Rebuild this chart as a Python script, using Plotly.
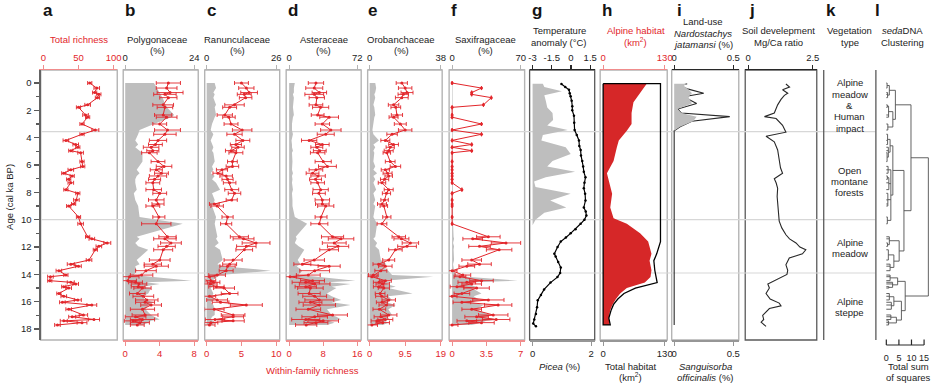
import plotly.graph_objects as go

W, H = 941, 385
FONT = "Liberation Sans, Arial, sans-serif"

# ---------------- data ----------------
AGES = [0.0, 0.37, 0.7, 0.83, 1.07, 1.6, 1.78, 2.34, 2.5, 3.0,
        3.44, 3.75, 4.2, 4.5, 4.7, 4.95, 5.1, 5.75, 6.1, 6.35,
        6.6, 6.8, 7.05, 7.3, 7.8, 8.07, 8.55, 8.85, 9.0, 9.8,
        10.3, 11.25, 11.4, 11.7, 11.95, 12.2, 12.95, 13.25, 13.4, 13.73,
        14.05, 14.17, 14.46, 14.58, 14.7, 14.9, 15.0, 15.4, 15.6, 15.87,
        16.04, 16.24, 16.55, 16.97, 17.1, 17.3, 17.4, 17.53, 17.7]

TOTAL_RICH = [66, 76, 73, 79, 77, 63, 50, 60, 63, 55,
              74, 55, 32, 46, 49, 39, 53, 55, 56, 39,
              29, 41, 36, 39, 32, 49, 47, 43, 36, 50,
              53, 63, 69, 91, 79, 74, 65, 39, 50, 22,
              32, 10, 9, 39, 46, 29, 36, 22, 29, 49,
              27, 69, 36, 57, 41, 72, 29, 55, 20]
ERR_A = [3, 4, 3, 3, 3, 4, 3, 4, 3, 3,
         5, 3, 4, 4, 3, 3, 4, 3, 3, 4,
         3, 3, 3, 4, 3, 3, 4, 3, 3, 3,
         4, 3, 4, 5, 4, 3, 4, 5, 4, 4,
         3, 4, 3, 5, 4, 3, 4, 3, 4, 5,
         4, 7, 4, 6, 5, 8, 5, 7, 4]

POLY_PCT = [10, 11, 12, 12.5, 13, 14, 14.5, 17, 16, 10,
            5, 4.5, 3.5, 4.5, 3.5, 5, 6, 6, 5, 4,
            5, 4, 3.5, 3.5, 4, 3, 3.5, 4, 4.5, 5,
            20, 4, 5, 3.5, 4.5, 8, 4, 5, 3.5, 4,
            3, 9, 23, 7, 12, 6, 9, 8, 6, 7,
            10, 8, 7, 9, 10, 12, 9, 8, 6]
POLY_RICH = [5.0, 4.8, 5.2, 4.6, 5.0, 4.4, 4.6, 4.4, 4.8, 4.0,
             4.9, 4.6, 3.8, 3.5, 3.0, 3.2, 2.8, 3.8, 4.5, 3.6,
             4.2, 3.8, 3.4, 3.2, 3.3, 4.0, 3.6, 3.8, 3.2, 3.9,
             3.6, 4.9, 4.6, 5.3, 4.8, 4.4, 4.0, 3.2, 3.6, 2.4,
             1.9, 0.5, 0.3, 1.2, 1.6, 1.5, 2.0, 1.4, 2.1, 2.5,
             2.3, 3.0, 2.0, 2.3, 1.2, 2.0, 0.9, 1.7, 1.4]
ERR_B = [1.4, 1.2, 1.5, 1.3, 1.0, 1.2, 0.9, 1.0, 1.2, 0.8,
         1.5, 1.3, 1.0, 0.8, 0.9, 0.7, 0.9, 0.8, 0.9, 0.7,
         0.8, 1.0, 0.7, 0.8, 0.9, 0.8, 0.9, 0.7, 0.8, 0.7,
         1.7, 1.0, 1.3, 1.2, 1.0, 1.1, 1.2, 1.0, 1.4, 1.2,
         1.3, 1.1, 1.0, 0.8, 0.9, 0.8, 1.0, 0.9, 1.2, 1.3,
         1.1, 1.2, 1.4, 1.5, 1.2, 1.4, 1.0, 1.1, 0.8]

RANU_PCT = [3, 3.5, 2.5, 3, 2.5, 3.5, 3, 3.5, 3, 2,
            1.5, 2.5, 1.5, 2, 2.5, 2, 2.5, 3, 2, 2.5,
            1.5, 3, 2, 3.5, 5, 2, 3, 2.5, 2, 3.5,
            3, 4, 3.5, 4.5, 3, 5, 6, 4, 6, 24,
            5, 4, 2, 2.5, 3, 2, 1.5, 2.5, 2, 3,
            1.5, 2.5, 3, 3, 2, 1.5, 2.5, 3, 2]
RANU_RICH = [5.0, 5.7, 6.1, 5.4, 5.6, 4.0, 3.3, 2.6, 3.2, 3.5,
             5.1, 4.0, 5.2, 4.2, 4.5, 3.5, 4.2, 3.7, 3.7, 2.2,
             1.6, 2.8, 3.0, 3.3, 3.6, 4.0, 3.6, 1.1, 1.5, 3.0,
             2.8, 4.7, 5.3, 7.1, 5.7, 5.4, 3.8, 3.3, 3.0, 2.8,
             1.5, 0.4, 0.6, 1.0, 0.5, 1.4, 2.5, 3.3, 0.4, 1.5,
             2.0, 5.7, 1.1, 3.8, 3.8, 1.2, 3.8, 0.6, 0.4]
ERR_C = [1.0, 1.1, 1.2, 1.0, 0.9, 1.4, 1.0, 1.1, 0.9, 1.0,
         1.4, 1.1, 1.0, 0.8, 0.9, 0.8, 1.0, 0.7, 0.9, 0.8,
         0.7, 0.9, 0.8, 0.9, 1.0, 0.9, 0.8, 0.7, 0.9, 0.8,
         0.8, 1.3, 1.5, 2.0, 1.4, 1.2, 1.3, 1.0, 1.1, 1.0,
         1.2, 0.8, 0.7, 0.9, 1.0, 1.1, 1.5, 1.2, 0.9, 1.5,
         1.2, 2.3, 1.4, 1.7, 1.5, 1.4, 1.6, 1.0, 0.8]

ASTE_PCT = [6, 5, 5, 4, 5, 4, 4, 5, 4, 3,
            3, 4, 2.5, 3, 3, 4, 3, 3.5, 3, 3,
            4, 3, 3.5, 3, 4, 3, 3.5, 3, 3.5, 6,
            19, 7, 8, 6, 10, 16, 9, 12, 8, 14,
            10, 30, 70, 40, 65, 45, 50, 40, 45, 55,
            45, 65, 40, 45, 50, 55, 42, 48, 40]
ASTE_RICH = [6.3, 5.9, 7.1, 5.9, 6.5, 6.3, 7.4, 6.7, 9.4, 7.8,
             9.8, 8.6, 4.7, 7.8, 6.5, 7.2, 6.7, 8.0, 9.0, 6.3,
             5.5, 6.8, 6.2, 6.7, 7.4, 7.0, 7.8, 7.8, 8.6, 7.5,
             7.1, 10.2, 12.2, 10.6, 11.5, 9.4, 5.9, 3.1, 9.4, 6.0,
             4.5, 0.2, 5.5, 3.9, 6.0, 3.9, 5.0, 4.7, 6.0, 7.1,
             5.0, 7.1, 4.5, 10.2, 6.0, 3.9, 8.0, 6.3, 4.0]
ERR_D = [1.8, 2.0, 1.7, 2.2, 1.8, 1.6, 1.9, 1.5, 2.2, 1.7,
         2.4, 2.0, 1.8, 1.6, 1.4, 1.5, 1.7, 1.9, 2.1, 1.6,
         1.5, 1.7, 1.4, 1.6, 1.8, 1.5, 1.7, 1.6, 1.9, 1.4,
         2.0, 2.6, 3.0, 2.8, 2.5, 2.2, 2.4, 2.0, 2.6, 3.5,
         2.8, 1.5, 2.8, 3.2, 3.6, 2.5, 3.0, 2.6, 2.8, 3.4,
         2.7, 3.8, 2.9, 3.5, 3.0, 3.3, 3.6, 2.8, 2.5]

OROB_PCT = [3, 3.5, 3, 2.5, 3, 2, 2.5, 3, 2.5, 2,
            1.5, 2, 5, 2, 3, 2, 2.5, 2, 3, 2,
            4, 2, 3, 2, 3.5, 2, 3, 2, 3, 2,
            4, 3, 2, 4, 3, 5, 6, 9, 7, 10,
            12, 34, 8, 12, 9, 14, 10, 23, 10, 12,
            9, 14, 10, 12, 9, 11, 8, 10, 7]
OROB_RICH = [8.6, 9.5, 10.0, 9.0, 8.6, 6.4, 7.0, 7.3, 6.4, 8.2,
             9.5, 6.0, 4.2, 6.4, 5.5, 5.1, 4.6, 5.5, 6.9, 4.2,
             4.8, 5.1, 4.0, 3.3, 5.1, 4.5, 4.0, 3.3, 3.8, 4.6,
             3.3, 7.8, 8.5, 10.9, 10.0, 6.9, 5.1, 2.4, 4.2, 3.0,
             1.0, 0.6, 4.2, 2.5, 3.5, 2.4, 3.8, 2.8, 3.2, 5.1,
             3.3, 4.5, 2.6, 5.1, 3.0, 4.2, 2.0, 3.5, 0.6]
ERR_E = [1.5, 1.8, 1.6, 1.4, 1.7, 1.4, 1.3, 1.5, 1.2, 1.6,
         1.8, 1.4, 1.2, 1.3, 1.1, 1.2, 1.0, 1.3, 1.4, 1.1,
         1.2, 1.0, 1.1, 1.0, 1.2, 1.1, 1.0, 1.2, 1.0, 1.1,
         1.3, 1.8, 2.0, 2.2, 2.5, 1.8, 1.6, 1.5, 1.8, 1.6,
         1.3, 1.4, 1.6, 1.5, 1.8, 1.4, 1.5, 1.3, 1.6, 1.8,
         1.5, 2.0, 1.7, 2.2, 1.8, 2.0, 1.6, 1.8, 1.5]

SAXI_PCT = [0.5, 0.5, 0.3, 0.5, 0.4, 0.5, 0.3, 0.5, 0.4, 0.3,
            0.3, 0.4, 0.3, 0.3, 0.4, 0.3, 0.3, 0.3, 0.4, 0.3,
            0.3, 0.3, 0.3, 0.3, 0.4, 0.3, 0.3, 0.3, 0.3, 0.5,
            1.0, 1.5, 2, 1, 2, 1.5, 2, 1, 1.5, 2,
            4, 15, 67, 20, 15, 25, 20, 30, 22, 28,
            20, 32, 25, 38, 30, 47, 35, 30, 20]
SAXI_RICH = [0.0, 3.0, 2.0, 2.0, 4.0, 3.2, 0.0, 0.0, 0.0, 3.0,
             0.0, 3.0, 0.0, 2.0, 0.0, 2.0, 0.0, 0.0, 0.0, 0.0,
             0.0, 0.0, 0.0, 0.0, 1.0, 0.0, 0.0, 0.0, 0.0, 0.0,
             0.0, 3.7, 2.1, 5.5, 2.8, 4.8, 2.0, 2.8, 1.5, 0.0,
             1.1, 0.8, 3.0, 1.5, 2.0, 0.5, 2.5, 1.0, 0.0, 3.7,
             1.0, 4.7, 2.0, 4.2, 2.5, 4.5, 1.5, 3.0, 0.0]
ERR_F = [0, 0, 0, 0, 0, 0, 0, 0, 0, 0,
         0, 0, 0, 0, 0, 0, 0, 0, 0, 0,
         0, 0, 0, 0, 0, 0, 0, 0, 0, 0,
         0, 1.2, 1.0, 1.5, 1.1, 1.3, 1.0, 1.2, 0.8, 0.5,
         0.8, 0.6, 1.2, 0.9, 1.0, 0.7, 1.3, 0.8, 0.5, 1.6,
         0.9, 1.4, 1.0, 1.5, 1.2, 1.4, 1.0, 1.3, 0.6]

TEMP_AGE = [0.07, 0.3, 0.5, 0.75, 0.97, 1.3, 1.7, 2.0, 2.4, 2.9,
            3.44, 3.8, 4.2, 4.6, 4.9, 5.3, 5.7, 6.1, 6.5, 6.9,
            7.3, 7.7, 8.1, 8.6, 9.1, 9.4, 9.7, 10.0, 10.3, 10.7,
            11.0, 11.3, 11.6, 12.0, 12.5, 12.7, 13.1, 13.5, 13.9, 14.2,
            14.6, 15.1, 15.5, 15.9, 16.4, 16.9, 17.3, 17.6, 17.8]
TEMP = [-0.75, -0.45, -0.16, -0.1, -0.03, 0.05, 0.1, 0.1, 0.23, 0.25,
        0.28, 0.45, 0.62, 0.65, 0.75, 0.78, 0.88, 0.95, 1.0, 1.13,
        1.05, 1.0, 1.1, 1.13, 1.0, 1.15, 1.2, 1.05, 0.75, 0.35,
        -0.03, -0.4, -0.8, -1.05, -1.3, -1.2, -1.0, -0.8, -0.85, -1.06,
        -1.6, -2.1, -2.35, -2.6, -2.65, -2.74, -2.87, -2.95, -2.74]

PICEA_AGE = [0.05, 0.3, 0.6, 0.9, 1.3, 1.8, 2.2, 2.7, 3.1, 3.44,
             3.8, 4.2, 4.7, 5.2, 5.7, 6.1, 6.5, 6.9, 7.2, 7.6,
             8.1, 8.6, 9.1, 9.5, 10.0, 10.4]
PICEA = [0.35, 0.4, 1.0, 0.4, 0.45, 0.5, 0.68, 0.7, 0.5, 1.2,
         0.35, 0.3, 1.13, 1.3, 0.68, 0.5, 1.45, 0.45, 0.05, 0.1,
         1.3, 0.6, 1.15, 0.4, 0.1, 0.0]

HAB_AGE = [0.05, 0.7, 1.4, 2.2, 3.0, 3.5, 4.2, 4.7, 5.7, 6.6,
           7.1, 8.1, 9.1, 9.9, 10.3, 11.0, 11.6, 12.5, 13.0, 13.7,
           14.2, 14.6, 15.0, 15.4, 15.8, 16.2, 16.6, 17.2, 17.7]
ALPINE_HAB = [92, 78, 64, 60, 60, 50, 33, 29, 22, 8,
              12, 19, 15, 22, 50, 78, 95, 102, 98, 102,
              100, 88, 50, 36, 27, 20, 15, 12, 14]
TOTAL_HAB = [121, 121, 121, 121, 121, 121, 121, 121, 121, 121,
             121, 121, 121, 121, 121, 121, 121, 113, 107, 109,
             111, 114, 68, 44, 31, 22, 17, 12, 15]

NARDO_AGE = [0.05, 0.2, 0.45, 0.75, 1.0, 1.5, 1.9, 2.2, 2.46, 2.8,
             3.2, 3.5, 10.0, 17.7]
NARDO = [0.11, 0.05, 0.12, 0.25, 0.08, 0.19, 0.03, 0.06, 0.47, 0.15,
         0.05, 0.0, 0.0, 0.0]
SANG = [0.11, 0.08, 0.12, 0.15, 0.12, 0.15, 0.03, 0.06, 0.19, 0.16,
        0.05, 0.0, 0.0, 0.0]

MGCA_AGE = [0.07, 0.3, 0.5, 0.75, 0.9, 1.2, 1.6, 2.2, 2.46, 2.6,
            3.1, 3.6, 3.9, 4.3, 4.9, 5.5, 6.2, 6.6, 7.0, 7.3,
            7.7, 8.3, 8.9, 9.5, 10.1, 10.6, 11.1, 11.4, 11.7, 12.0,
            12.2, 12.5, 12.8, 13.3, 13.7, 14.0, 14.3, 14.7, 15.0, 15.2,
            15.4, 15.8, 16.1, 16.3, 16.5, 17.0, 17.3, 17.5, 17.8]
MGCA = [1.46, 1.6, 1.33, 1.53, 1.4, 1.27, 1.14, 1.01, 0.63, 1.08,
        1.33, 1.46, 0.69, 1.01, 1.14, 1.2, 1.25, 1.33, 1.01, 1.08,
        1.14, 1.12, 1.14, 1.17, 1.2, 1.3, 1.46, 1.6, 1.85, 2.0,
        2.23, 2.1, 1.59, 1.46, 1.53, 1.5, 1.2, 0.76, 0.82, 0.75,
        0.69, 0.85, 1.2, 1.27, 0.82, 0.56, 0.6, 0.5, 0.69]

VEG_LABELS = ["Alpine\nmeadow\n&\nHuman\nimpact", "Open\nmontane\nforests",
              "Alpine\nmeadow", "Alpine\nsteppe"]
VEG_CENTERS = [1.65, 7.2, 12.05, 16.4]
ZONE_BOUNDARIES = [3.55, 10.0, 13.9]

# dendrogram: (merge height, [children]); leaves are sample ages
CL_TOP = (3.6, [(1.2, [(0.3, [0.0, 0.37]), (0.5, [0.7, 0.83, 1.07])]),
                (2.6, [(0.9, [(0.4, [1.6, 1.78]), 2.34, 2.5]), (0.6, [3.0, 3.44])])])
CL_FOREST = (2.6, [(1.5, [(0.5, [3.75, 4.2, 4.5]), (0.8, [4.7, 4.95, (0.3, [5.1, 5.75])])]),
                   (1.8, [(0.7, [6.1, 6.35, 6.6]), (1.0, [(0.4, [6.8, 7.05]), 7.3, 7.8]),
                          (0.6, [8.07, 8.55, 8.85, 9.0]), (0.4, [9.8, 10.3])])])
CL_MEADOW = (5.1, [(1.2, [11.25, 11.4, (0.5, [11.7, 11.95])]),
                   (3.0, [(0.8, [12.2, 12.95]), (1.5, [13.25, 13.4, 13.73])])])
CL_STEPPE = (7.5, [(4.5, [(1.5, [14.05, 14.17, 14.46]), (2.5, [14.58, 14.7, (1.0, [14.9, 15.0])])]),
                   (6.0, [(3.0, [(1.2, [15.4, 15.6, 15.87]), (2.0, [16.04, 16.24, 16.55])]),
                          (4.0, [(1.8, [16.97, 17.1, 17.3]), (0.9, [17.4, 17.53, 17.7])])])])
DENDRO = (16.7, [(9.8, [CL_TOP, (7.0, [CL_FOREST, CL_MEADOW])]), CL_STEPPE])

# ---------------- styling / layout helpers ----------------
RED = "rgb(226,38,43)"
RED_FILL = "rgb(214,39,40)"
RED_AX = "rgb(240,140,140)"
GRAY_FILL = "rgb(190,190,190)"
BOX_GRAY = "rgb(180,180,180)"
TXT = "rgb(35,35,35)"

TOP_PX, BOT_PX = 70, 340
AGE0_PX, PX_PER_KA = 83.0, 13.67
Y_RANGE = [(BOT_PX - AGE0_PX) / PX_PER_KA, (TOP_PX - AGE0_PX) / PX_PER_KA]


def px(xp):
    return xp / W


def py(yp):
    return 1 - yp / H


def lin_range(bl, br, v0, p0, v1, p1):
    s = (p1 - p0) / (v1 - v0)
    return [v0 + (bl - p0) / s, v0 + (br - p0) / s]


fig = go.Figure()
layout = {}

# name, box_l, box_r, v0, p0, v1, p1, ticks, labels, line color, label color
TOP_AXES = [
    ("xaxis", 40, 117, 0, 42.7, 100, 113.3, [0, 50, 100], ["0", "50", "100"], RED_AX, RED),
    ("xaxis2", 123, 198.5, 0, 125, 24, 194.5, [0, 24], ["0", "24"], BOX_GRAY, TXT),
    ("xaxis3", 205, 280.5, 0, 207, 26, 277, [0, 26], ["0", "26"], BOX_GRAY, TXT),
    ("xaxis4", 287, 362.5, 0, 290, 72, 358.5, [0, 72], ["0", "72"], BOX_GRAY, TXT),
    ("xaxis5", 369, 444, 0, 371, 38, 442.5, [0, 38], ["0", "38"], BOX_GRAY, TXT),
    ("xaxis6", 451, 527, 0, 454, 70, 523, [0, 70], ["0", "70"], BOX_GRAY, TXT),
    ("xaxis7", 532, 597.5, -3, 535, 1.5, 593, [-3, -1.5, 0, 1.5], ["-3", "-1.5", "0", "1.5"], "rgb(40,40,40)", TXT),
    ("xaxis8", 603, 670.5, 0, 606, 130, 668, [0, 130], ["0", "130"], RED_AX, RED),
    ("xaxis9", 675, 742.5, 0, 677.5, 0.5, 737, [0, 0.5], ["0", "0.5"], "rgb(40,40,40)", TXT),
    ("xaxis10", 749, 821, 0, 752, 2.5, 817, [0, 2.5], ["0", "2.5"], "rgb(40,40,40)", TXT),
]
BOT_AXES = [
    ("xaxis11", "x2", 123, 198.5, 0, 125, 8, 194.5, [0, 4, 8], ["0", "4", "8"], RED_AX, RED),
    ("xaxis12", "x3", 205, 280.5, 0, 207, 10, 277, [0, 5, 10], ["0", "5", "10"], RED_AX, RED),
    ("xaxis13", "x4", 287, 362.5, 0, 290, 16, 358.5, [0, 8, 16], ["0", "8", "16"], RED_AX, RED),
    ("xaxis14", "x5", 369, 444, 0, 371, 19, 442.5, [0, 9.5, 19], ["0", "9.5", "19"], RED_AX, RED),
    ("xaxis15", "x6", 451, 527, 0, 454, 7, 523, [0, 3.5, 7], ["0", "3.5", "7"], RED_AX, RED),
    ("xaxis16", "x7", 532, 597.5, 0, 535, 2, 594, [0, 2], ["0", "2"], "rgb(150,150,150)", TXT),
    ("xaxis17", "x8", 603, 670.5, 0, 606, 130, 668, [0, 130], ["0", "130"], "rgb(150,150,150)", TXT),
    ("xaxis18", "x9", 675, 742.5, 0, 677.5, 0.5, 737, [0, 0.5], ["0", "0.5"], "rgb(150,150,150)", TXT),
]

for name, bl, br, v0, p0, v1, p1, tv, tt, lc, fc in TOP_AXES:
    layout[name] = dict(domain=[px(bl), px(br)], range=lin_range(bl, br, v0, p0, v1, p1),
                        anchor="y", side="top", showline=True, linecolor=lc, linewidth=1.5,
                        ticks="outside", ticklen=4, tickcolor=lc, tickwidth=1.2,
                        tickmode="array", tickvals=tv, ticktext=tt,
                        tickfont=dict(size=9.5, color=fc, family=FONT),
                        showgrid=False, zeroline=False, fixedrange=True)
for name, over, bl, br, v0, p0, v1, p1, tv, tt, lc, fc in BOT_AXES:
    layout[name] = dict(overlaying=over, range=lin_range(bl, br, v0, p0, v1, p1),
                        anchor="y", side="bottom", showline=True, linecolor=lc, linewidth=1.5,
                        ticks="outside", ticklen=4, tickcolor=lc, tickwidth=1.2,
                        tickmode="array", tickvals=tv, ticktext=tt,
                        tickfont=dict(size=9.5, color=fc, family=FONT),
                        showgrid=False, zeroline=False, fixedrange=True)

L_TICKS = [0, 5, 10, 15]
layout["xaxis19"] = dict(domain=[px(880), px(941)], range=lin_range(880, 941, 0, 891, 15, 929),
                         anchor="y", side="bottom", showline=False,
                         ticks="outside", ticklen=9, tickcolor="rgba(0,0,0,0)",
                         tickmode="array", tickvals=L_TICKS, ticktext=[str(t) for t in L_TICKS],
                         tickfont=dict(size=9, color=TXT, family=FONT),
                         showgrid=False, zeroline=False, fixedrange=True)

layout["yaxis"] = dict(domain=[py(BOT_PX), py(TOP_PX)], range=Y_RANGE, anchor="x", side="left",
                       showline=True, linecolor="rgb(100,100,100)", linewidth=2.2,
                       ticks="outside", ticklen=5, tickcolor="rgb(90,90,90)", tickwidth=1.2,
                       tickmode="array", tickvals=list(range(0, 19, 2)),
                       minor=dict(tickmode="array", tickvals=list(range(1, 19, 2)),
                                  ticks="outside", ticklen=3, tickcolor="rgb(90,90,90)"),
                       tickfont=dict(size=9.5, color=TXT, family=FONT),
                       showgrid=False, zeroline=False, fixedrange=True)


def gray_area(values, ages, xa):
    fig.add_trace(go.Scatter(x=values, y=ages, xaxis=xa, yaxis="y", mode="lines",
                             line=dict(width=0, color=GRAY_FILL), fill="tozerox",
                             fillcolor=GRAY_FILL, hoverinfo="skip"))


def red_rich(values, errs, xa):
    fig.add_trace(go.Scatter(x=values, y=AGES, xaxis=xa, yaxis="y", mode="lines+markers",
                             line=dict(width=1, color=RED), marker=dict(size=3, color=RED),
                             error_x=dict(type="data", array=errs, color=RED, thickness=0.9, width=2)))


# panel a
red_rich(TOTAL_RICH, ERR_A, "x")
# panels b-f
for pct, rich, err, xt, xb in [(POLY_PCT, POLY_RICH, ERR_B, "x2", "x11"),
                                (RANU_PCT, RANU_RICH, ERR_C, "x3", "x12"),
                                (ASTE_PCT, ASTE_RICH, ERR_D, "x4", "x13"),
                                (OROB_PCT, OROB_RICH, ERR_E, "x5", "x14"),
                                (SAXI_PCT, SAXI_RICH, ERR_F, "x6", "x15")]:
    gray_area(pct, AGES, xt)
    red_rich(rich, err, xb)

# panel g
gray_area(PICEA, PICEA_AGE, "x16")
fig.add_trace(go.Scatter(x=TEMP, y=TEMP_AGE, xaxis="x7", yaxis="y", mode="lines+markers",
                         line=dict(width=1.2, color="black"), marker=dict(size=2.5, color="black")))

# panel h
fig.add_trace(go.Scatter(x=ALPINE_HAB, y=HAB_AGE, xaxis="x8", yaxis="y", mode="lines",
                         line=dict(width=0, color=RED_FILL), fill="tozerox", fillcolor=RED_FILL))
fig.add_trace(go.Scatter(x=[0] + TOTAL_HAB + [0, 0], y=[HAB_AGE[0]] + HAB_AGE + [HAB_AGE[-1], HAB_AGE[0]],
                         xaxis="x17", yaxis="y", mode="lines", line=dict(width=1.3, color="black")))

# panel i
gray_area(SANG, NARDO_AGE, "x18")
fig.add_trace(go.Scatter(x=NARDO, y=NARDO_AGE, xaxis="x9", yaxis="y", mode="lines",
                         line=dict(width=1.1, color="rgb(40,40,40)")))

# panel j
fig.add_trace(go.Scatter(x=MGCA, y=MGCA_AGE, xaxis="x10", yaxis="y", mode="lines",
                         line=dict(width=1.1, color="rgb(40,40,40)")))

# panel l dendrogram
seg_x, seg_y = [], []


def build(node):
    if not isinstance(node, tuple):
        return node, 0.0
    h, children = node
    res = [build(c) for c in children]
    ps = [r[0] for r in res]
    for p, ch in res:
        seg_x.extend([ch, h, None])
        seg_y.extend([p, p, None])
    seg_x.extend([h, h, None])
    seg_y.extend([min(ps), max(ps), None])
    return (min(ps) + max(ps)) / 2, h


build(DENDRO)
fig.add_trace(go.Scatter(x=seg_x, y=seg_y, xaxis="x19", yaxis="y", mode="lines",
                         line=dict(width=0.9, color="rgb(80,80,80)")))

# ---------------- shapes ----------------
shapes = []


def rect(l, r, color, width=1.4):
    shapes.append(dict(type="rect", xref="paper", yref="paper", x0=px(l), x1=px(r),
                       y0=py(BOT_PX), y1=py(TOP_PX), line=dict(color=color, width=width), layer="below"))


for l, r in [(40, 117), (123, 198.5), (205, 280.5), (287, 362.5), (369, 444), (451, 527), (603, 670.5), (675, 742.5)]:
    rect(l, r, BOX_GRAY)
for l, r in [(532, 597.5), (749, 821)]:
    rect(l, r, "rgb(90,90,90)", 1.3)
for xv in [828, 880.5]:
    shapes.append(dict(type="line", xref="paper", yref="paper", x0=px(xv), x1=px(xv),
                       y0=py(BOT_PX), y1=py(TOP_PX), line=dict(color="rgb(90,90,90)", width=1.3)))
for b in ZONE_BOUNDARIES:
    shapes.append(dict(type="line", xref="paper", yref="y", x0=px(40), x1=px(880), y0=b, y1=b,
                       line=dict(color="rgb(215,215,215)", width=1.2), layer="below"))
# dendrogram scale bar
shapes.append(dict(type="line", xref="x19", yref="paper", x0=L_TICKS[0], x1=L_TICKS[-1],
                   y0=py(345), y1=py(345), line=dict(color="rgb(40,40,40)", width=1.2)))
for t in L_TICKS:
    shapes.append(dict(type="line", xref="x19", yref="paper", x0=t, x1=t, y0=py(345), y1=py(339.5),
                       line=dict(color="rgb(40,40,40)", width=1.2)))

# ---------------- annotations ----------------
ann = []


def txt(s, xc, yc, color=TXT, size=9.5, **kw):
    d = dict(text=s, x=px(xc), y=py(yc), xref="paper", yref="paper", showarrow=False,
             xanchor="center", yanchor="middle", font=dict(size=size, color=color, family=FONT))
    d.update(kw)
    ann.append(d)


def lines(ls, xc, y0, color=TXT, dy=11.6):
    for i, s in enumerate(ls):
        txt(s, xc, y0 + i * dy, color)


for letter, xl in [("a", 40), ("b", 123), ("c", 205), ("d", 287), ("e", 367), ("f", 451), ("g", 532),
                   ("h", 603), ("i", 678), ("j", 751), ("k", 828), ("l", 878)]:
    txt("<b>%s</b>" % letter, xl, 10.5, color="rgb(20,20,20)", size=17, xanchor="left")

lines(["Total richness"], 78, 39, RED)
lines(["Polygonaceae", "(%)"], 157.5, 39)
lines(["Ranunculaceae", "(%)"], 238, 39)
lines(["Asteraceae", "(%)"], 325, 39)
lines(["Orobanchaceae", "(%)"], 403, 39)
lines(["Saxifragaceae", "(%)"], 488, 39)
lines(["Temperature", "anomaly (°C)"], 562, 30.5)
lines(["Alpine habitat", "(km<sup>2</sup>)"], 639, 30.5, RED)
lines(["Land-use", "<i>Nardostachys</i>", "<i>jatamansi</i> (%)"], 707, 21.5)
lines(["Soil develepment", "Mg/Ca ratio"], 782, 30.5)
lines(["Vegetation", "type"], 854, 30.5)
lines(["<i>seda</i>DNA", "Clustering"], 907.5, 30.5)

txt("Within-family richness", 314, 370, RED)
txt("<i>Picea</i> (%)", 562, 366)
lines(["Total habitat", "(km<sup>2</sup>)"], 634, 366, dy=11)
lines(["<i>Sanguisorba</i>", "<i>officinalis</i> (%)"], 709, 366, dy=11)
lines(["Total sum", "of squares"], 913, 366, dy=11)

txt("Age (cal ka BP)", 9, 197, textangle=-90)

for lab, c in zip(VEG_LABELS, VEG_CENTERS):
    parts = lab.split("\n")
    n = len(parts)
    for i, s in enumerate(parts):
        ann.append(dict(text=s, x=px(854), y=c, xref="paper", yref="y", showarrow=False,
                        xanchor="center", yanchor="middle", yshift=-(i - (n - 1) / 2) * 11.3,
                        font=dict(size=9.5, color=TXT, family=FONT)))

fig.update_layout(width=W, height=H, margin=dict(l=0, r=0, t=0, b=0),
                  paper_bgcolor="white", plot_bgcolor="rgba(0,0,0,0)", showlegend=False,
                  font=dict(family=FONT, size=9.5, color=TXT),
                  shapes=shapes, annotations=ann, **layout)

fig.write_html("out.html",
               config={"displayModeBar": False, "staticPlot": True},
               post_script="document.body.style.margin='0px';document.body.style.overflow='hidden';")
